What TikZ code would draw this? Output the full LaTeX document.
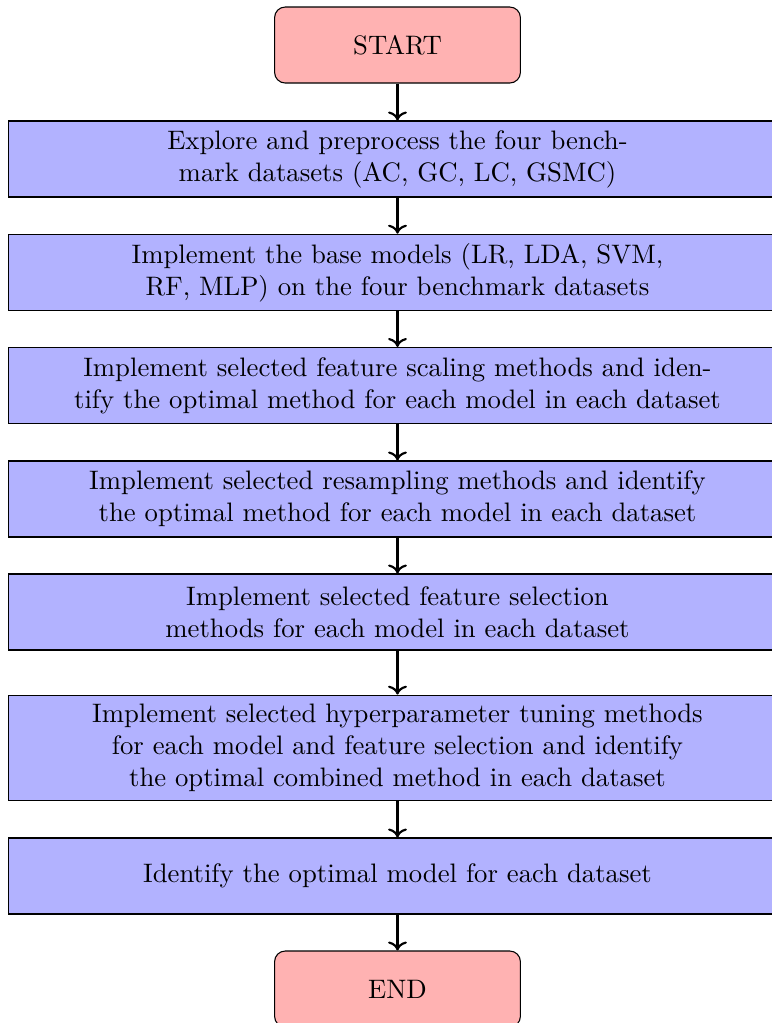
\documentclass[tikz,border=0pt]{standalone}
\usetikzlibrary{arrows.meta}
\begin{document}
\begin{tikzpicture}[x=0.3743pt,y=-0.3743pt,
  startstop/.style={rectangle, rounded corners, draw=black, fill=red!30,
    text width=3cm, minimum height=1cm, align=center},
  process/.style={rectangle, draw=black, fill=blue!30,
    text width=10cm, minimum height=1cm, align=center},
  flow/.style={thick,->}]
\useasboundingbox (0,0) rectangle (772,1023);
\node[startstop] (start) at (397.5,45) {START};
\node[process] (p1) at (397.5,159) {Explore and preprocess the four bench-\\mark datasets (AC, GC, LC, GSMC)};
\node[process] (p2) at (397.5,272.5) {Implement the base models (LR, LDA, SVM,\\RF, MLP) on the four benchmark datasets};
\node[process] (p3) at (397.5,385.5) {Implement selected feature scaling methods and iden-\\tify the optimal method for each model in each dataset};
\node[process] (p4) at (397.5,499) {Implement selected resampling methods and identify\\the optimal method for each model in each dataset};
\node[process] (p5) at (397.5,612) {Implement selected feature selection\\methods for each model in each dataset};
\node[process] (p6) at (397.5,748) {Implement selected hyperparameter tuning methods\\for each model and feature selection and identify\\the optimal combined method in each dataset};
\node[process] (p7) at (397.5,876) {Identify the optimal model for each dataset};
\node[startstop] (end) at (397.5,989) {END};
\draw[flow] (start) -- (p1);
\draw[flow] (p1) -- (p2);
\draw[flow] (p2) -- (p3);
\draw[flow] (p3) -- (p4);
\draw[flow] (p4) -- (p5);
\draw[flow] (p5) -- (p6);
\draw[flow] (p6) -- (p7);
\draw[flow] (p7) -- (end);
\end{tikzpicture}
\end{document}
